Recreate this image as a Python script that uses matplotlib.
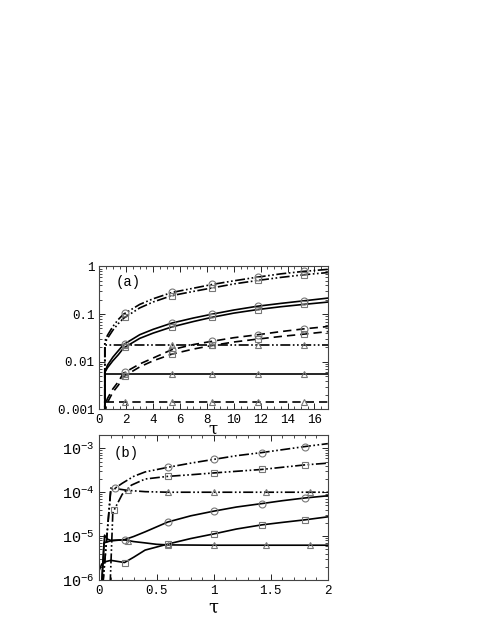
import matplotlib
matplotlib.use("Agg")
import matplotlib.pyplot as plt
import numpy as np

plt.rcParams['font.family'] = ['Liberation Mono', 'DejaVu Sans Mono']
plt.rcParams['mathtext.default'] = 'regular'

# ---- panel (a) data ----
tau_a = [0.4, 0.6, 1.0, 1.4, 1.8, 3, 4, 5.4, 7, 8.4, 10, 11.8, 13.5, 15.2, 17]
top_hi = [0.027, 0.036, 0.055, 0.077, 0.10, 0.16, 0.21, 0.285, 0.35, 0.42, 0.50, 0.60, 0.70, 0.79, 0.87]
top_lo = [0.025, 0.031, 0.046, 0.063, 0.082, 0.135, 0.18, 0.245, 0.30, 0.355, 0.43, 0.51, 0.59, 0.67, 0.745]
mid_hi = [0.006, 0.0085, 0.0125, 0.017, 0.023, 0.037, 0.048, 0.065, 0.083, 0.10, 0.122, 0.147, 0.168, 0.19, 0.217]
mid_lo = [0.006, 0.0075, 0.0105, 0.014, 0.0195, 0.031, 0.040, 0.054, 0.070, 0.086, 0.105, 0.125, 0.143, 0.16, 0.179]
low_hi = [0.0012, 0.0017, 0.0027, 0.0038, 0.0058, 0.009, 0.012, 0.018, 0.023, 0.027, 0.032, 0.037, 0.043, 0.049, 0.055]
low_lo = [0.001, 0.0014, 0.0023, 0.0032, 0.0049, 0.0078, 0.0105, 0.0145, 0.0185, 0.022, 0.026, 0.030, 0.034, 0.038, 0.043]
flat_a = {'dd': 0.023, 'solid': 0.0056, 'dash': 0.00142}
tau_a0 = 0.4
mark_a = [1.9, 5.4, 8.4, 11.8, 15.2]

# ---- panel (b) data ----
tau_b_c = [0.03, 0.1, 0.13, 0.2, 0.3, 0.4, 0.6, 0.8, 1.0, 1.2, 1.42, 1.6, 1.8, 2.0]
dd_circ = [8e-7, 1.15e-4, 1.2e-4, 1.6e-4, 2.3e-4, 2.9e-4, 3.7e-4, 4.6e-4, 5.6e-4, 6.8e-4, 8.0e-4, 9.3e-4, 1.1e-3, 1.28e-3]
tau_b_t = [0.03, 0.1, 0.25, 0.4, 0.6, 1.0, 1.5, 2.0]
dd_tri = [8e-7, 1.25e-4, 1.1e-4, 1.03e-4, 1.0e-4, 1.0e-4, 1.0e-4, 1.0e-4]
tau_b_s = [0.094, 0.117, 0.128, 0.2, 0.28, 0.4, 0.6, 0.8, 1.0, 1.2, 1.42, 1.6, 1.8, 2.0]
dd_sq = [8e-7, 3.3e-5, 3.9e-5, 9e-5, 1.45e-4, 2.0e-4, 2.3e-4, 2.5e-4, 2.75e-4, 3.0e-4, 3.3e-4, 3.7e-4, 4.2e-4, 4.6e-4]

tau_b_st = [0.02, 0.045, 0.07, 0.1, 0.22, 0.3, 0.4, 0.5, 0.6, 1.0, 1.5, 2.0]
so_tri = [8e-7, 1.05e-5, 8.5e-6, 8.0e-6, 8.2e-6, 7.5e-6, 7.0e-6, 6.5e-6, 6.3e-6, 6.2e-6, 6.2e-6, 6.2e-6]
tau_b_sc = [0.02, 0.04, 0.1, 0.22, 0.3, 0.4, 0.6, 0.8, 1.0, 1.2, 1.42, 1.6, 1.8, 2.0]
so_circ = [8e-7, 7e-6, 7.8e-6, 8.3e-6, 9.8e-6, 1.25e-5, 2.1e-5, 2.9e-5, 3.7e-5, 4.6e-5, 5.5e-5, 6.4e-5, 7.4e-5, 8.3e-5]
tau_b_ss = [0.0, 0.02, 0.05, 0.1, 0.22, 0.3, 0.4, 0.6, 0.8, 1.0, 1.2, 1.42, 1.6, 1.8, 2.0]
so_sq = [1.7e-6, 2.3e-6, 2.6e-6, 2.8e-6, 2.5e-6, 3.3e-6, 4.8e-6, 6.6e-6, 8.8e-6, 1.12e-5, 1.45e-5, 1.8e-5, 2.05e-5, 2.35e-5, 2.75e-5]

mark_b_c = [0.137, 0.6, 1.0, 1.42, 1.8]
mark_b_s = [0.128, 0.6, 1.0, 1.42, 1.8]
mark_b_t = [0.25, 0.6, 1.0, 1.46, 1.84]
mark_b_sol = [0.22, 0.6, 1.0, 1.42, 1.8]

DD = (0, (6, 1.5, 1, 1.5, 1, 1.5))
DA = (0, (5, 3))
LW = 1.2
MK = dict(ls='none', ms=5, mfc='none', mec='#777777', mew=0.8, zorder=3)


def curve(ax, t, y, ls, marks, mk, start=None):
    t = list(t); y = list(y)
    if start is not None:
        t = [start] + t
        y = [1e-9] + y
    ax.plot(t, y, color='black', lw=LW, ls=ls)
    ax.plot(marks, np.interp(marks, t, y), marker=mk, **MK)


def frame(ax):
    for s in ax.spines.values():
        s.set_color('#444444')
        s.set_linewidth(0.8)
    ax.tick_params(which='both', direction='in', top=True, right=True, labelsize=9)
    ax.tick_params(which='major', length=4, width=0.6)
    ax.tick_params(which='minor', length=2, width=0.5)


fig = plt.figure(figsize=(4.85, 6.27), dpi=100)
ax2 = fig.add_axes([0.205, 0.075, 0.471, 0.231])
ax1 = fig.add_axes([0.205, 0.347, 0.471, 0.228])
ax2.patch.set_alpha(0)

# panel (a)
ax1.set_yscale('log')
curve(ax1, tau_a, top_hi, DD, mark_a, 'o', tau_a0)
curve(ax1, tau_a, top_lo, DD, mark_a, 's', tau_a0)
curve(ax1, tau_a, mid_hi, '-', mark_a, 'o', tau_a0)
curve(ax1, tau_a, mid_lo, '-', mark_a, 's', tau_a0)
curve(ax1, tau_a, low_hi, DA, mark_a, 'o', tau_a0)
curve(ax1, tau_a, low_lo, DA, mark_a, 's', tau_a0)
for key, ls in [('dd', DD), ('solid', '-'), ('dash', DA)]:
    curve(ax1, [tau_a0, 17], [flat_a[key]] * 2, ls, mark_a, '^', tau_a0)
ax1.set_xlim(0, 17)
ax1.set_ylim(0.001, 1)
ax1.set_xticks(range(0, 17, 2))
ax1.xaxis.set_minor_locator(matplotlib.ticker.MultipleLocator(0.5))
ax1.set_yticks([0.001, 0.01, 0.1, 1], ['0.001', '0.01', '0.1', '1'])
ax1.set_xlabel(r'$\tau$', fontsize=12, family='DejaVu Serif', labelpad=-4)
ax1.text(0.07, 0.86, '(a)', transform=ax1.transAxes, fontsize=10)
frame(ax1)

# panel (b)
ax2.set_yscale('log')
curve(ax2, tau_b_c, dd_circ, DD, mark_b_c, 'o')
curve(ax2, tau_b_s, dd_sq, DD, mark_b_s, 's')
curve(ax2, tau_b_t, dd_tri, DD, mark_b_t, '^')
curve(ax2, tau_b_sc, so_circ, '-', mark_b_sol, 'o')
curve(ax2, tau_b_ss, so_sq, '-', mark_b_sol, 's')
curve(ax2, tau_b_st, so_tri, '-', mark_b_t, '^')
ax2.set_xlim(0, 2)
ax2.set_ylim(1e-6, 2e-3)
ax2.set_xticks([0, 0.5, 1, 1.5, 2], ['0', '0.5', '1', '1.5', '2'])
ax2.xaxis.set_minor_locator(matplotlib.ticker.MultipleLocator(0.1))
ax2.set_yticks([1e-6, 1e-5, 1e-4, 1e-3],
               [r'$10^{-6}$', r'$10^{-5}$', r'$10^{-4}$', r'$10^{-3}$'])
ax2.set_xlabel(r'$\tau$', fontsize=13, family='DejaVu Serif', labelpad=1)
ax2.text(0.06, 0.85, '(b)', transform=ax2.transAxes, fontsize=10)
frame(ax2)
ax2.tick_params(axis='y', which='major', labelsize=11)

fig.savefig('out.png', dpi=100)
